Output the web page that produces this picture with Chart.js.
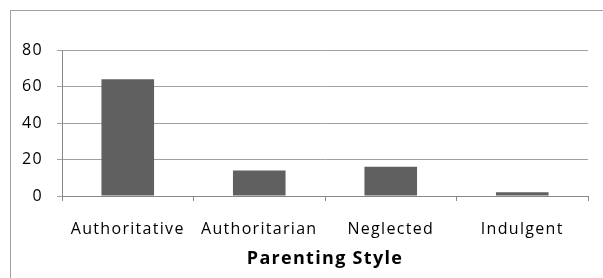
<!DOCTYPE html>
<html>
<head>
<meta charset="utf-8">
<script src="https://cdn.jsdelivr.net/npm/chart.js@4"></script>
<style>
  html, body { margin: 0; padding: 0; background: #fff; overflow: hidden; }
  #wrap { position: relative; width: 603px; height: 278px; }
  #frame { position: absolute; left: 10px; top: 10px; width: 700px; height: 400px; border: 1px solid #a0a0a0; }
  #chart { position: absolute; left: 0; top: 0; }
</style>
</head>
<body>
<div id="wrap">
  <div id="frame"></div>
  <canvas id="chart" width="603" height="278"></canvas>
</div>
<script>
const categories = ['Authoritative', 'Authoritarian', 'Neglected', 'Indulgent'];
const percentages = [64, 14, 16, 2];
const yTicks = [0, 20, 40, 60, 80];
const xTitle = 'Parenting Style';

// the picture's text is drawn wide, so spread the letters a bit
const spacing = {
  id: 'spacing',
  beforeDraw(chart) { chart.ctx.letterSpacing = '1.3px'; },
};

const ctx = document.getElementById('chart').getContext('2d');
new Chart(ctx, {
  type: 'bar',
  data: {
    labels: categories,
    datasets: [{
      data: percentages,
      backgroundColor: '#606060',
      borderWidth: 0,
      barPercentage: 0.4,
      categoryPercentage: 1,
    }],
  },
  options: {
    responsive: false,
    animation: false,
    layout: { padding: { top: 50, right: 15, bottom: 0, left: 0 } },
    plugins: { legend: { display: false }, tooltip: { enabled: false } },
    scales: {
      x: {
        afterFit: (s) => { s.height = 82; },
        grid: { drawOnChartArea: false, offset: true, tickLength: 5, color: '#888' },
        border: { color: '#888' },
        ticks: { color: '#000', padding: 19, maxRotation: 0, autoSkip: false, font: { family: 'Open Sans', size: 16 } },
        title: { display: true, text: xTitle, color: '#000', padding: { top: 0, bottom: 8 }, font: { family: 'Open Sans', size: 18, weight: 'bold' } },
      },
      y: {
        min: 0,
        max: 80,
        afterFit: (s) => { s.width = 62; },
        afterBuildTicks: (s) => { s.ticks = yTicks.map((v) => ({ value: v })); },
        grid: { color: '#a0a0a0', tickLength: 5 },
        border: { color: '#888' },
        ticks: { color: '#000', padding: 14, font: { family: 'Open Sans', size: 16 } },
      },
    },
  },
  plugins: [spacing],
});
</script>
</body>
</html>
